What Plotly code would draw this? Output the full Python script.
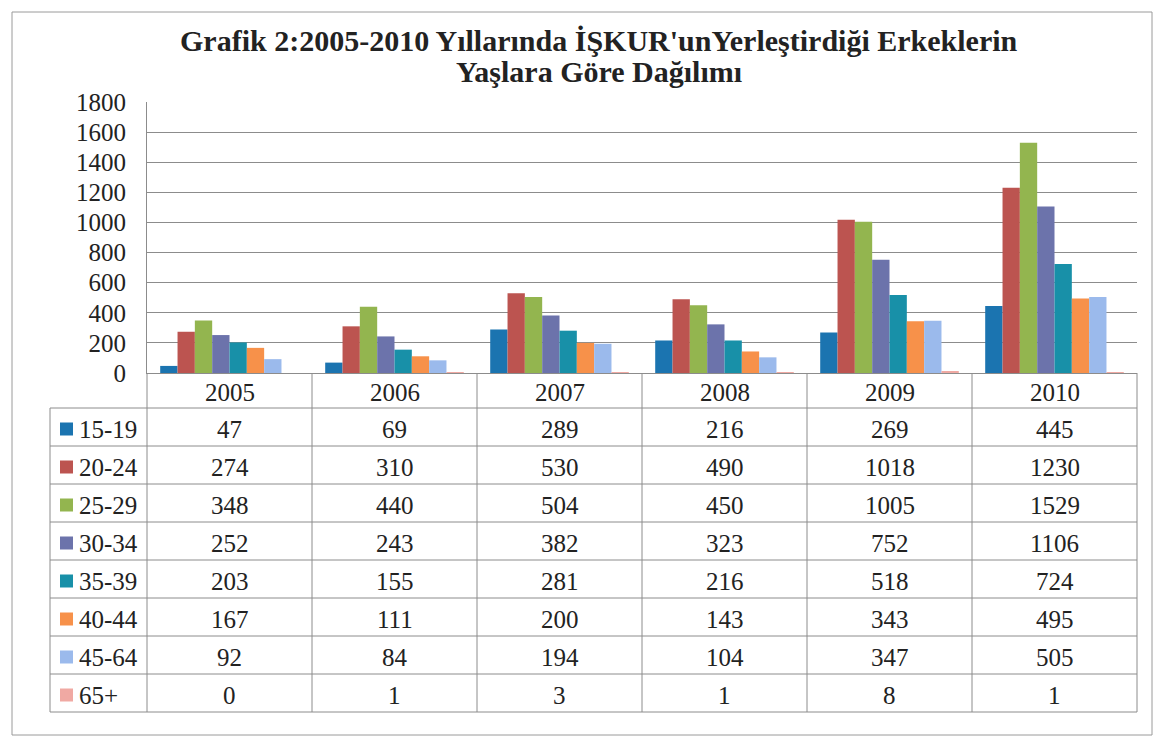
import plotly.graph_objects as go

years = ["2005", "2006", "2007", "2008", "2009", "2010"]
age_groups = ["15-19", "20-24", "25-29", "30-34", "35-39", "40-44", "45-64", "65+"]
v_15_19 = [47, 69, 289, 216, 269, 445]
v_20_24 = [274, 310, 530, 490, 1018, 1230]
v_25_29 = [348, 440, 504, 450, 1005, 1529]
v_30_34 = [252, 243, 382, 323, 752, 1106]
v_35_39 = [203, 155, 281, 216, 518, 724]
v_40_44 = [167, 111, 200, 143, 343, 495]
v_45_64 = [92, 84, 194, 104, 347, 505]
v_65p = [0, 1, 3, 1, 8, 1]
series = [v_15_19, v_20_24, v_25_29, v_30_34, v_35_39, v_40_44, v_45_64, v_65p]
colors = ["#1B74B0", "#BC5450", "#93B54F", "#6C73AB", "#1890A8", "#F7914A", "#9BBAEC", "#F0A9A3"]
y_ticks = [0, 200, 400, 600, 800, 1000, 1200, 1400, 1600, 1800]
title_lines = ["Grafik 2:2005-2010 Yıllarında İŞKUR'unYerleştirdiği Erkeklerin", "Yaşlara Göre Dağılımı"]

W, H = 1162, 740
L, R, T, B = 147, 1137, 102, 373
FONT = "Liberation Serif, Times New Roman, serif"
GRID = "#8c8c8c"
TXT = "#222222"


def px(x):
    return (x - L) / (R - L)


def py(y):
    return (B - y) / (B - T)


fig = go.Figure()
for name, vals, col in zip(age_groups, series, colors):
    fig.add_trace(go.Bar(x=years, y=vals, name=name, marker=dict(color=col, line=dict(width=0))))

shapes = []
annotations = []

# outer frame
shapes.append(dict(type="rect", xref="paper", yref="paper", x0=px(12), x1=px(1152), y0=py(12), y1=py(735),
                   line=dict(color="#9a9a9a", width=1)))

# title lines
for yc, line in zip([40, 71], title_lines):
    annotations.append(dict(x=px(599), xref="paper", y=py(yc), yref="paper", text="<b>" + line + "</b>",
                            showarrow=False, font=dict(family=FONT, size=30, color=TXT),
                            xanchor="center", yanchor="middle"))

# table geometry
header_top, header_bot, row_h = B, 408, 38
leg_left = 50
col_edges = [L + 165 * k for k in range(len(years) + 1)]
table_bot = header_bot + row_h * len(age_groups)

for i in range(len(age_groups) + 1):
    yy = header_bot + row_h * i
    shapes.append(dict(type="line", xref="paper", yref="paper", x0=px(leg_left), x1=px(col_edges[-1]),
                       y0=py(yy), y1=py(yy), line=dict(color=GRID, width=1)))
for xe in col_edges:
    shapes.append(dict(type="line", xref="paper", yref="paper", x0=px(xe), x1=px(xe),
                       y0=py(header_top), y1=py(table_bot), line=dict(color=GRID, width=1)))
shapes.append(dict(type="line", xref="paper", yref="paper", x0=px(leg_left), x1=px(leg_left),
                   y0=py(header_bot), y1=py(table_bot), line=dict(color=GRID, width=1)))

for k, yr in enumerate(years):
    annotations.append(dict(x=k, xref="x", y=py((header_top + header_bot) / 2 + 2), yref="paper",
                            text=yr, showarrow=False, font=dict(family=FONT, size=25, color=TXT),
                            xanchor="center", yanchor="middle"))

for i, (name, vals, col) in enumerate(zip(age_groups, series, colors)):
    yc = header_bot + row_h * i + row_h / 2 + 2
    shapes.append(dict(type="rect", xref="paper", yref="paper", x0=px(60), x1=px(73),
                       y0=py(yc - 6.5), y1=py(yc + 6.5), fillcolor=col, line=dict(width=0)))
    annotations.append(dict(x=px(77), xref="paper", y=py(yc), yref="paper", text=name, showarrow=False,
                            font=dict(family=FONT, size=25, color=TXT), xanchor="left", yanchor="middle"))
    for k, v in enumerate(vals):
        annotations.append(dict(x=k, xref="x", y=py(yc), yref="paper", text=str(v), showarrow=False,
                                font=dict(family=FONT, size=25, color=TXT), xanchor="center", yanchor="middle"))

fig.update_layout(
    width=W, height=H,
    margin=dict(l=L, r=W - R, t=T, b=H - B),
    paper_bgcolor="white", plot_bgcolor="white",
    barmode="group", bargap=0.16, bargroupgap=0,
    showlegend=False,
    font=dict(family=FONT, color=TXT),
    xaxis=dict(type="category", showticklabels=False, showgrid=False, showline=True, linecolor=GRID,
               linewidth=1, ticks="", range=[-0.5, 5.5], fixedrange=True),
    yaxis=dict(range=[0, 1800], tickvals=y_ticks, showgrid=True, gridcolor=GRID, gridwidth=1,
               showline=True, linecolor=GRID, linewidth=1, zeroline=False, ticks="",
               ticklabelstandoff=15, tickfont=dict(family=FONT, size=25, color=TXT)),
    shapes=shapes, annotations=annotations,
)

fig.write_html("out.html", config={"displayModeBar": False},
               post_script="document.body.style.margin='0';document.body.style.padding='0';")
